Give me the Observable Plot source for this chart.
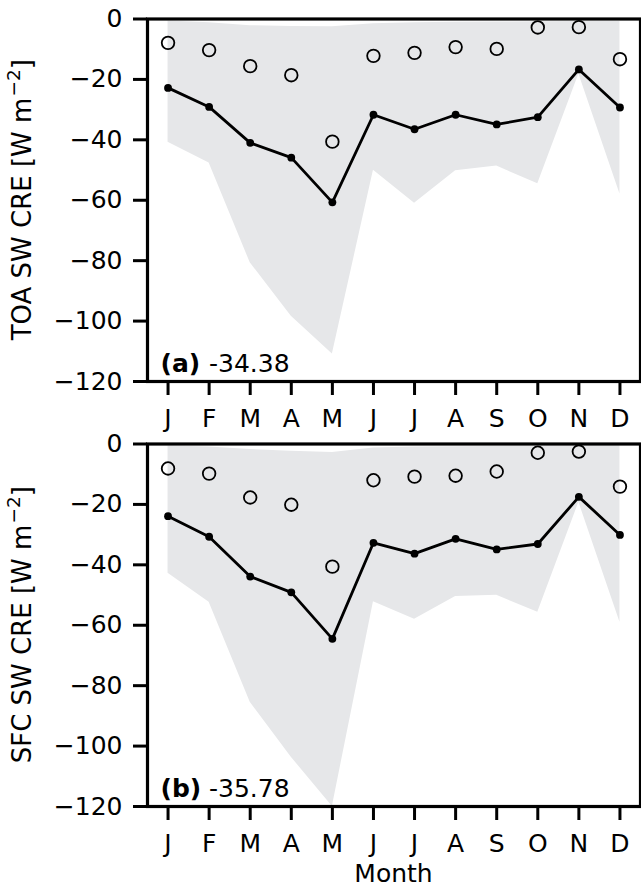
<!DOCTYPE html>
<html>
<head>
<meta charset="utf-8">
<script src="https://cdn.jsdelivr.net/npm/d3@7"></script>
<script src="https://cdn.jsdelivr.net/npm/@observablehq/plot@0.6"></script>
<style>
  html, body { margin: 0; padding: 0; background: white; }
  #chart svg { display: block; }
</style>
</head>
<body>
<div id="chart"></div>
<script>
// ---- data ----
const months = ["J","F","M","A","M","J","J","A","S","O","N","D"];
const yTicks = [0, -20, -40, -60, -80, -100, -120];

const toaMean  = [-22.8, -29.1, -41.0, -45.9, -60.7, -31.7, -36.5, -31.7, -34.9, -32.5, -16.7, -29.3];
const toaObs   = [-7.9, -10.3, -15.6, -18.6, -40.6, -12.2, -11.2, -9.3, -9.9, -2.8, -2.7, -13.3];
const toaUpper = [-0.7, -1.2, -2.2, -2.5, -2.6, -1.6, -1.2, -1.1, -1.0, -0.9, -0.8, -0.8];
const toaLower = [-40.8, -47.7, -80.7, -98.4, -110.9, -50.1, -61.0, -50.2, -48.7, -54.5, -18.2, -57.9];

const sfcMean  = [-23.9, -30.7, -43.9, -49.1, -64.5, -32.7, -36.3, -31.4, -34.9, -33.1, -17.5, -30.1];
const sfcObs   = [-8.1, -9.8, -17.7, -20.1, -40.6, -12.0, -10.8, -10.5, -9.1, -2.9, -2.5, -14.1];
const sfcUpper = [-0.7, -1.0, -1.8, -2.4, -2.8, -1.3, -1.0, -0.9, -0.8, -0.7, -0.6, -0.6];
const sfcLower = [-42.8, -52.4, -85.5, -103.7, -120.0, -52.2, -58.0, -50.5, -50.1, -55.7, -19.3, -59.0];

const panelTags   = ["(a)", "(b)"];
const panelValues = ["-34.38", "-35.78"];
const yLabels     = ["TOA SW CRE [W m", "SFC SW CRE [W m"];
const xLabel      = "Month";

// ---- drawing ----
const FONT = "'DejaVu Sans', sans-serif";
const monthIdx = months.map((m, i) => i + 1);

function panel(mean, obs, upper, lower, tag, value, yLabel, height, marginBottom, withXLabel) {
  const data = months.map((m, i) => ({i: i + 1, mean: mean[i], obs: obs[i], up: upper[i], lo: lower[i]}));
  const marginTop = 18.5;
  const chart = Plot.plot({
    width: 641,
    height,
    marginLeft: 147,
    marginRight: 1,
    marginTop,
    marginBottom,
    style: {fontFamily: FONT, fontSize: "25px", color: "black", background: "white", overflow: "visible"},
    x: {domain: [0.5, 12.5]},
    y: {domain: [-120, 0]},
    marks: [
      Plot.areaY(data, {x: "i", y1: "lo", y2: "up", fill: "#e6e7e9", clip: true}),
      Plot.line(data, {x: "i", y: "mean", stroke: "black", strokeWidth: 2.8}),
      Plot.dot(data, {x: "i", y: "mean", r: 3.9, fill: "black"}),
      Plot.dot(data, {x: "i", y: "obs", r: 6.3, stroke: "black", strokeWidth: 1.8, fill: "none"}),
      Plot.axisY({ticks: yTicks, tickSize: 14, tickPadding: 11, strokeWidth: 3, tickFormat: d3.format("d"), label: null, fontSize: 25}),
      Plot.axisX({ticks: monthIdx, tickSize: 14, tickPadding: 14, strokeWidth: 3, tickFormat: i => months[i - 1], label: null, fontSize: 25}),
      Plot.frame({stroke: "black", strokeWidth: 3.2}),
      Plot.text([tag], {text: d => d, frameAnchor: "bottom-left", dx: 13, dy: -9.3, textAnchor: "start", lineAnchor: "bottom", fontWeight: "bold", fontSize: 25, fill: "black"}),
      Plot.text([value], {text: d => d, frameAnchor: "bottom-left", dx: 61.5, dy: -9.3, textAnchor: "start", lineAnchor: "bottom", fontSize: 25, fill: "black"})
    ]
  });
  const svg = d3.select(chart);
  const plotBottom = height - marginBottom;
  const t = svg.append("text")
    .attr("transform", `translate(31,${(marginTop + plotBottom) / 2}) rotate(-90)`)
    .attr("text-anchor", "middle")
    .attr("font-family", FONT)
    .attr("font-size", 26)
    .attr("fill", "black");
  t.append("tspan").text(yLabel);
  t.append("tspan").attr("font-size", 18.5).attr("dx", 1).attr("dy", -11).text("\u22122");
  t.append("tspan").attr("dy", 11).text("]");
  if (withXLabel) {
    svg.append("text")
      .attr("x", (147 + 640) / 2)
      .attr("y", plotBottom + 75.5)
      .attr("text-anchor", "middle")
      .attr("font-family", FONT)
      .attr("font-size", 25)
      .attr("fill", "black")
      .text(xLabel);
  }
  return chart;
}

const root = document.getElementById("chart");
root.appendChild(panel(toaMean, toaObs, toaUpper, toaLower, panelTags[0], panelValues[0], yLabels[0], 425, 44, false));
root.appendChild(panel(sfcMean, sfcObs, sfcUpper, sfcLower, panelTags[1], panelValues[1], yLabels[1], 463, 82, true));
</script>
</body>
</html>
